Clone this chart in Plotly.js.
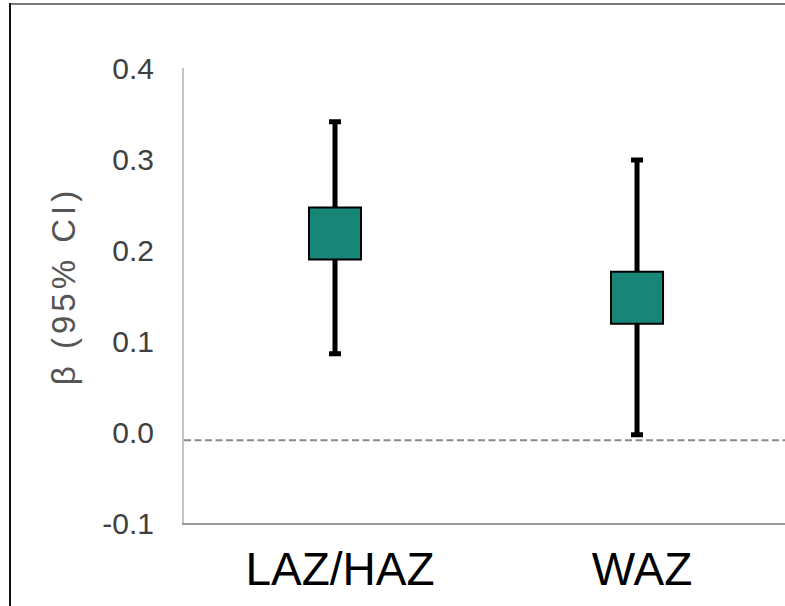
<!DOCTYPE html>
<html>
<head>
<meta charset="utf-8">
<script src="https://cdn.plot.ly/plotly-3.0.1.min.js"></script>
<style>
  html, body { margin: 0; padding: 0; background: #fff; }
  #wrap { position: relative; width: 785px; height: 606px; overflow: hidden; }
  #chart { position: absolute; left: 0; top: 0; width: 785px; height: 606px; }
  #frameTop { position: absolute; left: 10px; top: 3px; width: 775px; height: 0; border-top: 2px solid #7a7a7a; }
  #frameLeft { position: absolute; left: 9px; top: 3px; width: 0; height: 603px; border-left: 2px solid #111; }
  .annotation-text { letter-spacing: 4px; }
</style>
</head>
<body>
<div id="wrap">
  <div id="chart"></div>
  <div id="frameTop"></div>
  <div id="frameLeft"></div>
</div>
<script>
// Data
const categories = ['LAZ/HAZ', 'WAZ'];
const boxLow     = [0.189, 0.119];   // lower edge of square
const boxHigh    = [0.247, 0.176];   // upper edge of square
const ciLower    = [0.086, -0.003];
const ciUpper    = [0.341, 0.299];
const refLineY   = -0.009;           // dashed reference line
const yTickVals  = [-0.1, 0.0, 0.1, 0.2, 0.3, 0.4];
const yTickText  = ['-0.1', '0.0', '0.1', '0.2', '0.3', '0.4'];
const yTitle     = 'β (95% CI)';

const estimate = boxLow.map((v, i) => (v + boxHigh[i]) / 2);
const errPlus  = ciUpper.map((v, i) => v - estimate[i]);
const errMinus = estimate.map((v, i) => v - ciLower[i]);

const trace = {
  type: 'scatter',
  mode: 'markers',
  x: categories,
  y: estimate,
  marker: { symbol: 'square', size: 52, color: '#178677', line: { color: '#000', width: 2 } },
  error_y: {
    type: 'data', symmetric: false,
    array: errPlus, arrayminus: errMinus,
    color: '#000', thickness: 5, width: 6
  },
  hoverinfo: 'none',
  cliponaxis: false
};

const layout = {
  width: 785, height: 606,
  margin: { l: 184, r: 0, t: 68, b: 83, pad: 0 },
  paper_bgcolor: '#fff', plot_bgcolor: '#fff',
  showlegend: false,
  font: { family: 'Liberation Sans, Arial, sans-serif' },
  xaxis: {
    type: 'category',
    range: [-0.5, 1.49],
    showgrid: false, zeroline: false,
    showline: true, linecolor: '#9a9a9a', linewidth: 2,
    ticks: '',
    tickfont: { size: 46, color: '#000' },
    ticklabelstandoff: 5,
    ticklabelshift: 5,
    fixedrange: true
  },
  yaxis: {
    range: [-0.1, 0.4],
    tickvals: yTickVals,
    ticktext: yTickText,
    showgrid: false, zeroline: false,
    showline: true, linecolor: '#c4c4c4', linewidth: 2,
    ticks: '',
    tickfont: { size: 30, color: '#404040' },
    ticklabelstandoff: 22,
    fixedrange: true
  },
  annotations: [{
    text: yTitle, textangle: -90, showarrow: false,
    xref: 'paper', yref: 'paper', x: -0.2, y: 0.52,
    xanchor: 'center', yanchor: 'middle',
    font: { size: 33, color: '#555' }
  }],
  shapes: [{
    type: 'line', xref: 'paper', x0: 0, x1: 1, yref: 'y', y0: refLineY, y1: refLineY,
    line: { color: '#8a8a8a', width: 2, dash: '7px,3.5px' }, layer: 'below'
  }]
};

Plotly.newPlot('chart', [trace], layout, { staticPlot: true, displayModeBar: false });
</script>
</body>
</html>
